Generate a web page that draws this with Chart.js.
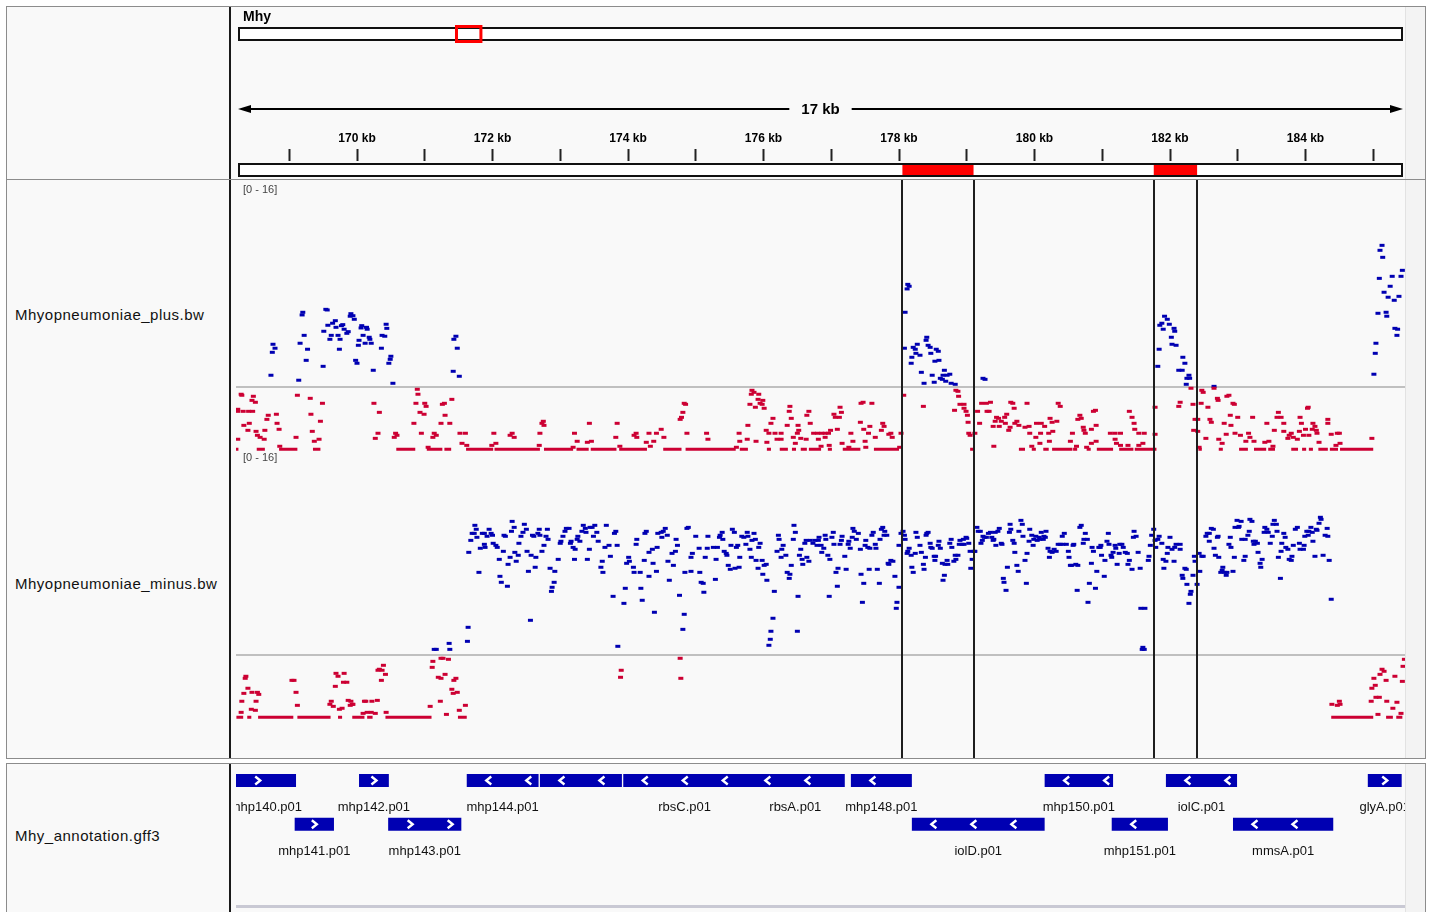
<!DOCTYPE html>
<html>
<head>
<meta charset="utf-8">
<script src="https://cdn.jsdelivr.net/npm/chart.js@4/dist/chart.umd.min.js"></script>
<style>
  body { margin: 0; width: 1434px; height: 912px; overflow: hidden; position: relative; background: #fff; font-family: "Liberation Sans", Arial, sans-serif; }
  .panel { position: absolute; left: 6px; width: 1420px; box-sizing: border-box; border: 1px solid #8c8c8c; background: #f9f9f9; }
  .divider { position: absolute; left: 229px; width: 2px; background: #1a1a1a; }
  .gutter { position: absolute; left: 1405px; width: 20px; background: #f3f3f3; border-left: 1px solid #e2e2e2; box-sizing: border-box; }
  .name { position: absolute; left: 15px; font-size: 15px; letter-spacing: 0.5px; color: #111; line-height: 18px; white-space: nowrap; }
  canvas { position: absolute; }
</style>
</head>
<body>
<div class="panel" style="top:6px;height:174px"></div>
<div class="panel" style="top:179px;height:580px"></div>
<div class="panel" style="top:763px;height:160px"></div>
<div class="gutter" style="top:7px;height:172px"></div>
<div class="gutter" style="top:180px;height:578px"></div>
<div class="gutter" style="top:764px;height:148px"></div>
<div class="divider" style="top:7px;height:172px"></div>
<div class="divider" style="top:180px;height:578px"></div>
<div class="divider" style="top:764px;height:148px"></div>

<div class="name" style="top:306px">Mhyopneumoniae_plus.bw</div>
<div class="name" style="top:575px">Mhyopneumoniae_minus.bw</div>
<div class="name" style="top:827px">Mhy_annotation.gff3</div>

<canvas id="ruler" width="1175" height="173" style="left:230px;top:6px;width:1175px;height:173px"></canvas>
<canvas id="plus" width="1175" height="272" style="left:230px;top:180px;width:1175px;height:272px"></canvas>
<canvas id="minus" width="1175" height="307" style="left:230px;top:451px;width:1175px;height:307px"></canvas>
<canvas id="genes" width="1175" height="148" style="left:230px;top:764px;width:1175px;height:148px"></canvas>

<script>
// ---- data (kb positions, track values) ----
const chromName = "Mhy";
const chromLengthKb = 893;
const trackRange = [0, 16];
const regions = [[178.05, 179.10], [181.76, 182.40]];

const plusBlue = [
  [169.20,5.86],[169.19,5.65],[169.54,6.09],[169.56,6.04],[169.91,5.75],[169.94,5.59],[169.90,5.55],[169.96,5.31],
  [169.68,5.20],[169.64,5.00],[169.57,4.84],[169.69,4.68],[169.79,4.89],[169.77,4.81],[169.81,4.53],[169.87,4.34],
  [169.85,4.21],[170.07,4.81],[170.06,4.63],[170.14,4.68],[170.15,4.53],[170.43,4.92],[170.44,4.60],[169.51,4.37],
  [169.22,4.05],[169.62,4.05],[169.72,4.05],[169.60,3.74],[169.75,3.74],[170.09,4.05],[170.18,3.90],[170.19,3.74],
  [170.03,3.66],[170.02,3.27],[170.12,3.43],[170.21,3.43],[170.37,4.05],[170.41,3.98],[170.36,3.04],[168.76,3.35],
  [168.79,3.04],[168.75,2.72],[169.16,3.43],[169.27,2.96],[169.25,2.09],[169.50,1.62],[169.74,2.96],[169.98,2.09],
  [170.00,1.86],[170.24,1.31],[170.50,2.41],[170.49,2.17],[170.47,1.86],[168.73,0.92],[169.14,0.53],[170.53,0.29],
  [171.46,3.98],[171.43,3.74],[171.48,3.04],[171.42,1.23],[171.51,0.84],
  [178.13,8.05],[178.15,7.90],[178.12,7.69],[178.09,5.86],[178.08,3.04],[178.41,3.90],[178.40,3.66],[178.27,3.35],
  [178.21,3.11],[178.24,2.96],[178.25,2.64],[178.31,2.49],[178.19,2.33],[178.18,1.86],[178.43,3.27],[178.46,3.11],
  [178.47,2.64],[178.55,2.96],[178.58,2.80],[178.53,2.02],[178.59,2.09],[178.33,1.15],[178.49,0.92],[178.37,0.29],
  [178.52,0.37],[178.67,1.31],[178.65,0.92],[178.71,0.92],[178.75,1.00],[178.61,0.68],[178.64,0.60],[178.69,0.45],
  [178.77,0.29],[178.83,0.21],[179.24,0.68],[179.27,0.60],
  [181.92,5.55],[181.96,5.31],[181.88,5.00],[181.85,4.84],[181.99,4.92],[182.06,4.60],[182.07,4.37],[181.90,4.53],
  [182.02,3.90],[182.03,3.35],[182.09,3.27],[181.84,2.96],[181.82,1.62],[182.19,2.33],[182.22,1.86],[182.13,1.31],
  [182.18,1.31],[182.28,0.92],[182.25,0.68],[182.29,0.68],[182.24,0.21],[182.65,0.05],
  [185.13,11.11],[185.10,10.72],[185.14,10.17],[185.43,9.15],[185.09,8.52],[185.28,8.68],[185.41,8.68],[185.25,7.90],
  [185.16,7.43],[185.22,7.04],[185.38,7.11],[185.31,6.80],[185.07,5.78],[185.19,5.86],[185.20,5.55],[185.32,4.60],
  [185.36,4.53],[185.35,4.05],[185.04,3.43],[185.03,2.64],[185.01,1.00]
];

const plusRed = [
  [168.29,-0.57],[168.30,-0.65],[168.47,-0.73],[168.45,-1.05],[168.50,-1.20],[168.24,-1.75],[168.24,-1.91],[168.32,-1.91],
  [168.40,-1.91],[168.46,-1.91],[168.41,-2.85],[168.33,-3.01],[168.39,-3.40],[168.51,-3.48],[168.53,-3.79],[168.57,-3.95],
  [168.63,-4.10],[168.24,-4.10],[168.69,-2.22],[168.67,-2.54],[168.81,-2.14],[168.82,-2.85],[168.85,-3.32],[168.64,-3.40],
  [168.86,-4.65],[169.12,-0.65],[169.31,-0.89],[169.49,-1.28],[169.32,-2.14],[169.46,-2.69],[169.34,-3.48],[169.37,-4.26],
  [169.44,-4.10],[169.10,-3.95],[170.25,-1.28],[170.33,-1.99],[170.31,-3.63],[170.27,-4.03],[170.57,-3.63],[170.59,-3.79],
  [170.55,-3.95],[170.89,-0.18],[170.90,-0.57],[170.87,-1.28],[171.00,-1.28],[171.02,-1.52],[170.93,-1.99],[170.99,-2.14],
  [170.84,-2.85],[170.95,-3.63],[171.14,-3.63],[171.17,-3.79],[171.12,-3.95],[171.05,-4.73],[171.26,-1.36],[171.29,-1.28],
  [171.40,-0.97],[171.30,-2.22],[171.24,-2.85],[171.37,-2.85],[171.52,-3.63],[171.60,-3.63],[171.55,-4.42],[171.62,-4.58],
  [172.02,-3.63],[172.05,-4.42],[171.99,-4.58],[172.29,-3.63],[172.26,-3.79],[172.32,-3.95],[172.75,-2.69],[172.73,-2.85],
  [172.76,-3.01],[172.70,-3.63],[172.69,-4.58],[173.21,-3.63],[173.25,-4.26],[173.19,-4.73],[173.43,-2.85],[173.46,-4.26],
  [173.40,-4.34],[173.84,-2.85],[173.82,-3.95],[173.88,-4.65],[174.12,-3.63],[174.09,-3.79],[174.13,-3.95],[174.31,-3.63],
  [174.42,-3.63],[174.49,-3.32],[174.53,-3.95],[174.38,-4.26],[174.27,-4.34],[174.33,-4.65],[174.83,-1.28],[174.85,-1.36],
  [174.81,-1.99],[174.79,-2.38],[174.77,-2.54],[174.87,-3.63],[175.16,-3.63],[175.18,-4.10],
  [175.83,-0.26],[175.86,-0.42],[175.82,-0.57],[175.93,-0.57],[175.92,-0.97],[175.99,-1.05],[175.80,-1.36],[175.95,-1.28],
  [175.98,-1.36],[175.88,-1.59],[176.01,-1.67],[176.14,-2.46],[175.77,-3.01],[176.04,-3.40],[176.11,-2.85],[176.08,-3.63],
  [176.17,-3.63],[176.26,-3.63],[176.20,-4.10],[176.26,-4.10],[176.05,-4.34],[175.89,-4.26],[175.76,-4.10],[175.65,-4.26],
  [175.64,-3.63],[175.60,-4.73],[176.39,-1.52],[176.38,-1.91],[176.41,-2.46],[176.35,-3.01],[176.52,-3.40],[176.50,-3.63],
  [176.44,-3.95],[176.55,-4.03],[176.47,-4.42],[176.63,-4.10],[176.67,-1.91],[176.64,-2.22],[176.69,-2.85],[176.51,-3.01],
  [176.81,-4.10],[176.91,-3.95],[176.74,-3.63],[176.80,-3.63],[176.86,-3.63],[176.91,-3.63],[176.96,-3.63],[176.99,-3.40],
  [177.09,-3.32],[177.04,-2.14],[177.06,-2.38],[177.12,-2.38],[177.15,-1.99],[177.13,-1.59],[176.97,-4.58],[176.85,-4.65],
  [177.16,-4.42],[177.26,-4.73],[177.29,-3.63],[177.32,-4.26],[177.44,-1.28],[177.47,-1.20],[177.60,-1.28],[177.43,-2.77],
  [177.48,-3.32],[177.57,-3.09],[177.55,-3.63],[177.65,-3.95],[177.50,-4.26],[177.51,-4.73],[177.76,-2.85],[177.78,-3.09],
  [177.74,-3.40],[177.85,-3.71],[177.90,-3.95],[177.88,-3.63],[178.03,-3.63],[178.01,-4.73],[178.07,-0.65],[178.36,-1.52],
  [178.82,-1.83],[178.88,-0.73],[178.87,-0.34],[178.84,-0.26],[178.90,-1.36],[178.96,-1.36],[178.96,-1.67],[178.99,-1.91],
  [179.01,-2.22],[179.02,-2.77],[179.03,-3.63],[179.05,-3.79],[179.12,-3.63],[179.16,-1.91],[179.19,-2.85],[179.22,-1.28],
  [179.29,-1.28],[179.35,-1.20],[179.30,-1.91],[179.33,-1.91],[179.40,-4.65],[179.44,-2.38],[179.47,-2.46],[179.56,-2.38],
  [179.59,-2.14],[179.42,-2.69],[179.51,-2.69],[179.57,-2.85],[179.39,-3.09],[179.48,-3.09],[179.64,-3.16],[179.62,-3.40],
  [179.71,-2.85],[179.74,-2.69],[179.77,-3.01],[179.65,-1.20],[179.68,-1.28],[179.70,-1.67],[179.89,-1.28],[179.86,-3.16],
  [179.92,-3.09],[179.93,-3.63],[180.02,-3.95],[180.03,-2.85],[180.10,-2.85],[180.15,-3.09],[180.09,-3.63],[180.21,-3.63],
  [180.08,-4.42],[179.96,-4.65],[180.23,-2.46],[180.26,-2.77],[180.33,-2.69],[180.35,-1.28],[180.38,-1.52],[180.27,-3.48],
  [180.22,-4.26],[180.53,-4.26],[180.56,-3.63],[180.64,-2.54],[180.67,-2.22],[180.69,-2.46],[180.72,-3.16],[180.73,-3.40],
  [180.75,-3.63],[180.84,-3.32],[180.91,-3.01],[180.90,-1.83],[180.87,-1.91],[180.84,-4.42],[180.91,-4.26],[180.62,-4.65],
  [180.77,-4.73],[181.19,-4.10],[181.21,-4.42],[181.27,-4.58],[181.38,-4.58],[181.12,-3.63],[181.19,-3.63],[181.27,-3.63],
  [181.40,-1.91],[181.44,-2.38],[181.47,-2.85],[181.48,-3.32],[181.54,-3.63],[181.62,-3.63],[181.60,-4.42],[181.54,-4.58],
  [181.78,-1.59],[181.78,-3.71],
  [182.15,-1.20],[182.13,-1.52],[182.34,-1.36],[182.31,-0.10],[182.47,-0.26],[182.49,-0.42],[182.46,-1.28],[182.56,-1.59],
  [182.65,-0.10],[182.70,-0.89],[182.71,-1.05],[182.84,-0.73],[182.87,-0.65],[182.93,-1.28],[182.95,-1.36],[182.37,-2.54],
  [182.41,-2.54],[182.59,-2.54],[182.61,-2.77],[182.35,-3.40],[182.41,-3.48],[182.53,-4.03],[182.72,-4.10],[182.77,-4.42],
  [182.43,-4.73],[182.89,-2.22],[182.80,-2.85],[182.90,-3.01],[183.00,-2.38],[182.83,-3.71],[182.96,-3.63],[183.04,-3.79],
  [183.16,-3.63],[183.18,-3.95],[183.12,-4.26],[183.24,-4.26],[183.22,-2.38],[183.43,-2.85],[183.60,-1.99],[183.58,-2.38],
  [183.64,-2.38],[183.68,-2.85],[183.54,-3.40],[183.46,-4.26],[183.40,-4.34],[183.52,-4.65],[183.68,-3.48],[183.79,-3.63],
  [183.76,-3.79],[183.82,-3.95],[183.74,-4.03],[183.88,-4.10],[183.92,-2.38],[183.94,-2.85],[183.91,-3.48],[184.00,-3.32],
  [183.97,-3.79],[184.05,-3.79],[184.03,-1.67],[184.04,-1.59],[184.11,-2.85],[184.14,-3.09],[184.10,-3.32],[184.16,-3.40],
  [184.17,-3.63],[184.20,-4.34],[184.33,-2.54],[184.33,-2.85],[184.38,-3.71],[184.47,-3.63],[184.50,-3.63],[184.51,-4.42],
  [184.45,-4.58],[184.98,-4.03]
];

// runs of consecutive bins sitting at the floor value
const floorValue = -4.89;
const plusRedRuns = [
  [168.21,168.25],[168.52,168.64],[168.85,169.12],[169.35,169.46],[170.58,170.86],[171.03,171.26],[171.29,171.39],
  [171.61,172.01],[172.03,172.70],[172.76,173.19],[173.24,173.42],[173.45,173.83],[173.87,174.28],[174.52,174.79],
  [174.85,175.59],[175.65,175.77],[176.05,176.11],[176.24,176.36],[176.42,176.48],[176.55,176.64],[176.67,176.85],
  [176.95,177.01],[177.17,177.43],[177.63,178.00],[179.05,179.11],[179.77,179.86],[179.96,180.02],[180.13,180.21],
  [180.26,180.56],[180.57,180.63],[180.77,180.83],[180.92,181.16],[181.25,181.46],[181.48,181.80],[182.42,182.47],
  [182.72,182.78],[183.02,183.15],[183.24,183.42],[183.45,183.55],[183.79,183.89],[183.95,184.01],[184.05,184.11],
  [184.19,184.33],[184.36,184.48],[184.51,185.00]
];

const minusBlue = [
  [171.74,10.17],[171.76,9.86],[171.70,9.54],[171.73,9.54],[171.77,9.23],[171.68,8.99],[171.65,8.05],[171.80,6.48],
  [171.64,2.17],[171.63,1.07],[171.36,0.91],[171.37,0.44],[171.14,0.44],[171.17,0.44],[171.95,9.86],[171.85,9.54],
  [171.88,9.54],[171.98,9.54],[172.00,9.39],[171.92,9.31],[171.89,8.44],[171.88,8.68],[171.82,8.37],[172.01,8.76],
  [172.05,8.60],[172.07,8.44],[172.16,8.13],[172.10,7.50],[172.11,6.17],[172.13,5.70],[172.22,5.39],[172.23,7.11],
  [172.26,7.66],[172.29,10.48],[172.32,10.01],[172.28,9.70],[172.17,9.39],[172.19,9.31],[172.47,10.25],[172.50,9.86],
  [172.45,9.62],[172.42,9.31],[172.39,8.76],[172.33,8.05],[172.38,7.82],[172.35,7.35],[172.51,8.13],[172.53,6.56],
  [172.57,7.82],[172.59,9.39],[172.61,9.31],[172.63,6.88],[172.64,7.66],[172.56,2.72],[172.69,9.86],[172.67,9.54],
  [172.70,9.39],[172.81,9.86],[172.79,9.31],[172.82,9.07],[172.76,8.60],[172.73,8.13],[172.85,6.80],[172.91,5.70],
  [172.88,5.31],[172.87,4.99],[172.92,6.56],[172.97,7.50],[173.00,8.76],[173.01,8.92],[173.07,9.70],[173.09,9.93],
  [173.13,9.93],[173.04,9.31],[173.16,8.92],[173.15,8.76],[173.19,8.44],[173.22,8.29],[173.21,7.50],[173.25,9.07],
  [173.26,9.31],[173.29,8.92],[173.34,10.17],[173.37,9.93],[173.32,9.70],[173.38,9.62],[173.44,10.01],[173.47,10.01],
  [173.51,10.17],[173.49,9.31],[173.54,9.62],[173.56,8.92],[173.43,8.29],[173.40,7.50],[173.62,7.35],[173.60,6.88],
  [173.63,6.48],[173.66,8.44],[173.72,8.60],[173.74,7.74],[173.68,10.17],[173.80,9.54],[173.82,9.70],[173.84,8.60],
  [173.78,4.60],[173.94,4.05],[173.96,5.23],[173.85,0.68],[174.01,7.66],[174.02,7.35],[173.98,7.19],[174.08,6.88],
  [174.09,6.48],[174.13,9.07],[174.12,8.68],[174.18,6.48],[174.21,4.29],[174.19,5.23],[174.24,7.42],[174.25,9.54],
  [174.27,9.70],[174.31,8.05],[174.36,8.29],[174.43,8.44],[174.37,7.19],[174.42,6.56],[174.31,6.17],[174.39,3.35],
  [174.44,9.54],[174.49,9.62],[174.52,9.70],[174.55,9.93],[174.50,9.23],[174.58,9.39],[174.59,7.35],[174.61,5.86],
  [174.67,7.03],[174.70,8.13],[174.65,7.97],[174.73,8.60],[174.71,9.07],[174.76,4.68],[174.81,2.01],[174.83,3.19],
  [174.84,6.48],[174.87,9.93],[174.89,10.01],[174.95,7.97],[174.93,7.66],[174.93,6.56],[175.00,9.31],[175.05,8.37],
  [175.06,6.48],[175.08,5.70],[175.11,5.62],[175.12,4.92],[175.14,7.66],[175.17,8.37],[175.18,9.31],
  [175.29,5.93],[175.30,7.50],[175.26,8.44],[175.32,8.44],[175.35,9.23],[175.36,9.39],[175.39,9.62],[175.40,9.07],
  [175.42,8.13],[175.45,7.97],[175.46,7.82],[175.48,7.03],[175.51,6.72],[175.52,8.60],[175.54,9.86],[175.57,9.62],
  [175.58,6.80],[175.60,8.44],[175.62,8.60],[175.64,6.88],[175.65,7.66],[175.68,9.31],[175.71,9.23],[175.74,8.68],
  [175.76,9.62],[175.77,9.31],[175.80,8.29],[175.82,7.66],[175.83,8.99],[175.86,9.54],[175.88,9.07],[175.89,7.42],
  [175.92,6.80],[175.93,8.44],[175.95,8.76],[175.98,7.42],[175.99,6.33],[176.01,7.03],[176.04,7.11],[176.05,5.86],
  [176.08,0.76],[176.10,1.23],[176.11,1.86],[176.14,2.88],[176.16,4.99],[176.20,8.13],[176.22,9.39],[176.23,9.07],
  [176.26,7.66],[176.27,8.29],[176.29,8.60],[176.33,7.82],[176.35,6.48],[176.38,6.01],[176.39,6.33],[176.41,7.03],
  [176.44,9.07],[176.45,10.17],[176.47,9.62],[176.50,1.86],[176.51,4.60],[176.53,7.82],[176.55,8.29],[176.57,7.50],
  [176.58,7.11],[176.61,8.76],[176.64,7.66],[176.67,7.35],[176.63,8.99],[176.69,8.99],[176.73,8.76],[176.76,8.99],
  [176.79,8.60],[176.82,9.23],[176.81,8.99],[176.85,8.60],[176.86,8.05],[176.89,8.37],[176.91,9.39],[176.92,9.07],
  [176.95,7.82],[176.97,4.60],[176.98,7.50],[177.01,9.23],[177.03,9.62],[177.04,8.68],[177.07,6.48],[177.09,5.39],
  [177.10,6.80],[177.13,8.68],[177.15,8.99],[177.16,9.31],[177.20,7.74],[177.22,6.72],[177.25,8.68],[177.26,8.92],
  [177.28,8.37],[177.31,9.23],[177.32,9.93],[177.34,9.70],[177.37,9.07],[177.40,9.54],[177.43,8.29],[177.44,6.33],
  [177.46,4.13],[177.48,5.62],[177.50,8.60],[177.51,8.99],[177.54,8.44],[177.56,6.72],[177.57,8.37],[177.60,9.39],
  [177.62,9.62],[177.65,8.68],[177.66,8.37],[177.68,6.72],[177.71,5.62],[177.72,9.07],[177.74,9.86],[177.76,10.01],
  [177.78,9.39],[177.79,9.70],[177.82,9.39],[177.84,7.19],[177.85,7.11],[177.88,7.42],[177.91,7.35],[177.94,6.17],
  [177.96,3.66],[177.97,4.13],[178.00,5.31],[178.00,8.60],[178.03,9.54],[178.06,9.70],[178.08,9.39],[178.09,9.07],
  [178.12,7.97],[178.13,8.13],[178.15,8.37],[178.18,7.82],[178.19,6.88],[178.21,6.48],[178.24,7.97],[178.25,9.62],
  [178.27,9.23],[178.31,8.60],[178.33,8.05],[178.36,7.11],[178.37,6.72],[178.39,7.66],[178.40,9.39],[178.41,9.54],
  [178.43,9.62],[178.46,8.76],[178.47,8.44],[178.49,8.37],[178.52,7.74],[178.53,7.42],[178.54,7.74],[178.58,8.60],
  [178.59,8.92],[178.61,8.37],[178.64,7.19],[178.65,5.86],[178.67,6.25],[178.68,7.11],[178.71,7.42],[178.72,7.11],
  [178.75,8.76],[178.77,9.07],[178.78,8.44],[178.81,7.35],[178.83,7.82],[178.84,7.50],[178.87,7.82],[178.89,8.68],
  [178.90,8.99],[178.93,8.68],[178.95,9.07],[178.96,8.68],[178.99,9.23],[179.00,9.15],[179.03,8.76],[179.05,8.13],
  [179.06,6.80],[179.08,7.50],[179.11,8.13],[179.12,8.13],[179.15,10.01],[179.17,9.70],[179.20,9.70],[179.21,8.76],
  [179.23,8.99],[179.24,9.31],[179.26,9.23],[179.29,9.23],[179.32,9.54],[179.35,9.62],[179.37,9.23],[179.39,8.99],
  [179.40,9.07],[179.42,9.62],[179.43,8.60],[179.46,9.70],[179.48,9.93],[179.51,8.76],[179.52,8.68],[179.54,6.01],
  [179.55,5.70],[179.58,5.07],[179.60,6.88],[179.63,9.62],[179.64,10.25],[179.65,9.86],[179.68,8.99],[179.70,8.76],
  [179.71,8.05],[179.74,7.03],[179.76,6.56],[179.77,9.70],[179.80,10.56],[179.82,10.25],[179.83,9.31],[179.86,7.42],
  [179.88,5.62],[179.89,7.97],[179.92,8.92],[179.93,9.86],[179.96,9.39],[179.98,8.60],[179.99,9.07],[180.02,9.31],
  [180.04,8.99],[180.07,9.23],[180.10,9.62],[180.08,9.07],[180.13,9.07],[180.14,9.31],[180.16,9.23],[180.17,9.70],
  [180.20,8.37],[180.22,7.66],[180.23,8.13],[180.26,8.05],[180.29,8.29],[180.32,8.13],[180.35,8.68],[180.41,9.31],
  [180.44,9.54],[180.38,8.68],[180.42,8.68],[180.47,8.68],[180.50,8.13],[180.51,7.66],[180.53,7.03],[180.55,7.03],
  [180.57,8.60],[180.58,8.68],[180.63,5.07],[180.61,7.11],[180.64,7.03],[180.67,10.01],[180.69,10.17],[180.72,8.76],
  [180.73,9.07],[180.75,9.54],[180.78,9.07],[180.79,4.13],[180.81,5.62],[180.84,7.19],[180.85,8.44],[180.87,8.13],
  [180.90,5.23],[180.92,6.56],[180.95,8.44],[180.97,8.44],[180.98,8.60],[180.99,7.82],[181.03,6.17],[181.04,7.42],
  [181.07,8.92],[181.09,9.54],[181.10,8.68],[181.13,7.82],[181.14,7.66],[181.16,8.05],[181.19,8.60],[181.20,8.37],
  [181.22,7.11],[181.25,7.97],[181.26,8.68],[181.29,8.68],[181.31,8.44],[181.34,8.05],[181.37,7.97],[181.38,7.11],
  [181.40,7.42],[181.44,6.72],[181.46,9.23],[181.47,9.70],[181.50,9.31],[181.53,8.05],[181.56,6.80],[181.57,3.66],
  [181.63,3.66],[181.59,0.44],[181.62,0.44],[181.60,0.60],[181.68,7.42],[181.69,7.74],[181.71,8.60],
  [181.76,9.86],[181.73,9.39],[181.84,9.31],[181.82,9.07],[181.78,8.99],[181.79,8.44],[181.88,8.76],[182.00,9.23],
  [181.97,8.44],[182.03,8.29],[182.09,8.68],[182.15,8.68],[182.07,8.44],[182.15,8.29],[181.96,7.97],[181.90,7.50],
  [181.94,7.35],[182.06,7.35],[181.91,6.80],[182.22,6.80],[182.24,6.72],[182.18,6.25],[182.19,6.01],[182.25,5.54],
  [182.31,4.99],[182.30,4.76],[182.28,4.05],[182.34,6.25],[182.36,7.74],[182.37,7.35],[182.43,7.97],[182.40,5.54],
  [182.44,6.56],[182.47,7.74],[182.49,7.74],[182.61,9.93],[182.64,9.86],[182.58,9.54],[182.55,9.54],[182.53,9.31],
  [182.71,9.31],[182.70,9.23],[182.58,8.92],[182.65,8.37],[182.67,7.82],[182.72,7.66],[182.78,6.88],[182.77,6.64],
  [182.75,6.48],[182.81,6.48],[182.84,6.48],[182.83,6.25],[182.93,6.56],[182.89,9.23],[182.87,8.68],[182.90,8.44],
  [182.95,7.66],[182.96,10.01],[182.99,10.56],[183.05,10.48],[183.02,10.09],[183.01,10.01],[183.17,9.70],[183.15,9.39],
  [183.11,9.07],[183.06,9.07],[183.09,7.42],[183.11,7.74],[183.18,10.64],[183.21,10.48],[183.23,8.92],[183.26,8.92],
  [183.24,8.68],[183.29,8.76],[183.30,8.05],[183.36,7.50],[183.33,7.19],[183.34,6.88],[183.40,10.01],[183.43,9.86],
  [183.39,9.62],[183.45,9.62],[183.51,9.31],[183.54,10.56],[183.52,10.25],[183.57,10.25],[183.58,9.70],[183.48,8.76],
  [183.60,7.66],[183.63,6.01],[183.65,8.76],[183.68,9.54],[183.70,9.23],[183.71,8.44],[183.74,8.29],[183.64,8.13],
  [183.76,7.50],[183.79,7.42],[183.80,7.74],[183.82,8.60],[183.85,9.86],[183.88,10.01],[183.91,8.76],[183.92,8.29],
  [183.97,8.29],[183.98,8.60],[183.99,9.31],[184.04,9.39],[184.02,9.70],[184.05,9.70],[184.08,10.01],[184.10,9.62],
  [184.11,8.92],[184.14,7.74],[184.16,9.86],[184.17,9.78],[184.20,10.33],[184.22,10.80],[184.23,10.64],[184.26,7.82],
  [184.29,9.39],[184.32,9.93],[184.33,9.31],[184.35,7.42],[184.38,4.37]
];

const minusRed = [
  [168.36,-1.67],[168.35,-1.83],[168.39,-2.61],[168.33,-3.01],[168.45,-2.93],[168.53,-2.93],[168.55,-3.09],[168.30,-3.63],
  [168.51,-3.63],[168.44,-4.26],[168.50,-4.34],[168.29,-4.50],[169.04,-1.99],[169.07,-1.99],[169.10,-2.93],[169.12,-3.95],
  [169.69,-1.44],[169.72,-1.67],[169.81,-1.44],[169.68,-2.46],[169.80,-2.14],[169.85,-2.14],[169.62,-3.63],[169.60,-3.87],
  [169.65,-4.03],[169.74,-4.26],[169.78,-4.18],[169.87,-3.56],[169.91,-3.63],[169.93,-3.87],[169.90,-3.95],[169.94,-3.87],
  [170.11,-3.63],[170.13,-3.63],[170.22,-3.63],[170.30,-3.56],[170.09,-4.58],[170.15,-4.50],[170.21,-4.50],[170.27,-4.58],
  [170.43,-4.50],[170.39,-0.81],[170.33,-1.12],[170.31,-1.20],[170.37,-1.20],[170.42,-1.52],[170.36,-1.99],[171.12,-0.50],
  [171.11,-0.97],[171.24,-0.26],[171.27,-0.26],[171.35,-0.34],[171.30,-1.52],[171.20,-1.75],[171.24,-1.83],[171.46,-1.83],
  [171.43,-1.99],[171.40,-2.69],[171.42,-3.01],[171.48,-2.93],[171.23,-3.63],[171.08,-4.03],[171.60,-3.95],[171.51,-4.34],
  [171.32,-4.66],[173.90,-1.20],[173.89,-1.75],[174.77,-0.26],[174.78,-1.83],
  [184.39,-3.87],[184.47,-3.95],[184.50,-3.63],[184.51,-3.87],[184.98,-2.61],[184.97,-3.63],[185.03,-2.38],[185.04,-3.32],
  [185.09,-3.32],[185.10,-1.52],[185.13,-1.12],[185.16,-1.28],[185.19,-1.99],[185.01,-1.83],[185.07,-4.66],[185.20,-3.63],
  [185.29,-4.18],[185.32,-1.67],[185.35,-3.71],[185.43,-2.07],[185.41,-4.58],[185.44,-0.89],[185.46,-0.34]
];

const minusRedRuns = [
  [168.22,168.32],[168.38,168.44],[168.54,169.06],[169.12,169.61],[169.72,169.78],[169.93,170.11],[170.15,170.23],
  [170.42,171.10],[171.49,171.62],[184.38,185.00],[185.19,185.29],[185.34,185.43]
];

const geneNames   = ["mhp140.p01","mhp142.p01","mhp144.p01","","rbsC.p01","rbsA.p01","mhp148.p01","mhp150.p01","iolC.p01","glyA.p01",
                     "mhp141.p01","mhp143.p01","iolD.p01","mhp151.p01","mmsA.p01"];
const geneStarts  = [168.21,170.03,171.62,172.70,173.93,175.74,177.29,180.15,181.94,184.92,
                     169.08,170.46,178.19,181.14,182.93];
const geneEnds    = [169.10,170.47,172.68,173.91,175.74,177.20,178.19,181.16,182.99,185.42,
                     169.66,171.54,180.15,181.97,184.41];
const geneStrands = ["+","+","-","-","-","-","-","-","-","+",
                     "+","+","-","-","-"];
const geneRows    = [0,0,0,0,0,0,0,0,0,0,1,1,1,1,1];

// ---- drawing ----
Chart.defaults.font.family = '"Liberation Sans", Arial, sans-serif';
const BLUE = "rgb(0,0,178)";
const RED = "rgb(204,0,51)";
const REGION_LINE = "#1e1e1e";
const trackView = { min: 168.214, max: 185.469 };
const rulerView = { min: 168.243, max: 185.439 };

const toPts = (arr) => arr.map(([x, y]) => ({ x, y }));
const runPts = (runs, v) => runs.flatMap(([a, b]) => [{ x: a, y: v }, { x: b, y: v }, { x: b, y: null }]);

// ruler
const rulerDecor = {
  id: "rulerDecor",
  beforeDatasetsDraw(chart) {
    const { ctx, chartArea: a } = chart;
    ctx.save();
    ctx.fillStyle = "#fff";
    ctx.fillRect(a.left, a.top + 2, a.right - a.left, a.bottom - a.top - 2);
    ctx.strokeStyle = "#111";
    ctx.lineWidth = 2;
    ctx.strokeRect(a.left + 1, a.top + 3, a.right - a.left - 2, a.bottom - a.top - 4);
    ctx.restore();
  },
  afterDraw(chart) {
    const { ctx, chartArea: a, scales: { x } } = chart;
    const w = a.right - a.left;
    ctx.save();
    // chromosome name
    ctx.fillStyle = "#000";
    ctx.font = 'bold 14px "Liberation Sans", Arial, sans-serif';
    ctx.textBaseline = "middle";
    ctx.fillText(chromName, a.left + 5, 11);
    // ideogram
    ctx.fillStyle = "#fff";
    ctx.fillRect(a.left, 21, w, 14);
    ctx.strokeStyle = "#111";
    ctx.lineWidth = 2;
    ctx.strokeRect(a.left + 1, 22, w - 2, 12);
    const x0 = a.left + (x.min / chromLengthKb) * w;
    const x1 = a.left + (x.max / chromLengthKb) * w;
    ctx.strokeStyle = "#f00";
    ctx.lineWidth = 3;
    ctx.strokeRect(x0 - 1, 20.5, x1 - x0 + 2, 15);
    // span arrow
    const y = 103;
    const label = Math.round(x.max - x.min) + " kb";
    ctx.font = 'bold 15px "Liberation Sans", Arial, sans-serif';
    const tw = ctx.measureText(label).width;
    const cx = (a.left + a.right) / 2;
    ctx.fillStyle = "#000";
    ctx.textAlign = "center";
    ctx.fillText(label, cx, y + 1);
    ctx.strokeStyle = "#000";
    ctx.lineWidth = 2;
    ctx.beginPath();
    ctx.moveTo(a.left + 4, y); ctx.lineTo(cx - tw / 2 - 12, y);
    ctx.moveTo(cx + tw / 2 + 12, y); ctx.lineTo(a.right - 4, y);
    ctx.stroke();
    ctx.beginPath();
    ctx.moveTo(a.left, y); ctx.lineTo(a.left + 13, y - 4); ctx.lineTo(a.left + 13, y + 4); ctx.closePath();
    ctx.moveTo(a.right, y); ctx.lineTo(a.right - 13, y - 4); ctx.lineTo(a.right - 13, y + 4); ctx.closePath();
    ctx.fill();
    ctx.restore();
  }
};

new Chart(document.getElementById("ruler"), {
  type: "scatter",
  data: {
    datasets: [{
      data: runPts(regions, 0.44),
      showLine: true,
      borderColor: "#f00",
      borderWidth: 10,
      pointRadius: 0,
      spanGaps: false
    }]
  },
  options: {
    responsive: false,
    animation: false,
    events: [],
    layout: { autoPadding: false, padding: { left: 8, right: 2, top: 125, bottom: 2 } },
    plugins: { legend: { display: false }, tooltip: { enabled: false } },
    scales: {
      x: {
        type: "linear",
        position: "top",
        min: rulerView.min,
        max: rulerView.max,
        afterFit: (s) => { s.height = 30; },
        border: { display: false },
        grid: { drawOnChartArea: false, drawTicks: true, tickLength: 12, tickWidth: 2, tickColor: "#222" },
        ticks: {
          stepSize: 1,
          includeBounds: false,
          autoSkip: false,
          maxRotation: 0,
          maxTicksLimit: 100,
          padding: 3,
          color: "#000",
          font: { size: 12, weight: "bold" },
          callback: (v) => (v % 2 === 0 ? v + " kb" : "")
        }
      },
      y: { min: 0, max: 1, display: false }
    }
  },
  plugins: [rulerDecor]
});

// data tracks
const trackDecor = {
  id: "trackDecor",
  beforeDatasetsDraw(chart) {
    const { ctx, chartArea: a, scales: { y } } = chart;
    const y0 = Math.round(y.getPixelForValue(0));
    ctx.save();
    ctx.fillStyle = "#c0c0c0";
    ctx.fillRect(a.left, y0 - 1, a.right - a.left, 2);
    ctx.fillStyle = "#444";
    ctx.font = '11px "Liberation Sans", Arial, sans-serif';
    ctx.textBaseline = "middle";
    ctx.fillText("[" + trackRange[0] + " - " + trackRange[1] + "]", a.left + 7, a.top + 7);
    ctx.restore();
  },
  afterDatasetsDraw(chart) {
    const { ctx, scales: { x } } = chart;
    ctx.save();
    ctx.fillStyle = REGION_LINE;
    regions.forEach(([s, e]) => {
      [s, e].forEach((v) => {
        const px = Math.round(x.getPixelForValue(v));
        ctx.fillRect(px - 1, 0, 2, chart.height);
      });
    });
    ctx.restore();
  }
};

function trackChart(id, blue, red, runs, padding) {
  return new Chart(document.getElementById(id), {
    type: "scatter",
    data: {
      datasets: [
        { data: runPts(runs, floorValue), showLine: true, borderColor: RED, borderWidth: 3, pointRadius: 0, spanGaps: false },
        { data: toPts(red), pointStyle: "line", pointRadius: 2.5, pointBorderWidth: 3, pointBorderColor: RED, pointBackgroundColor: RED },
        { data: toPts(blue), pointStyle: "line", pointRadius: 2.5, pointBorderWidth: 3, pointBorderColor: BLUE, pointBackgroundColor: BLUE }
      ]
    },
    options: {
      responsive: false,
      animation: false,
      events: [],
      layout: { autoPadding: false, padding },
      plugins: { legend: { display: false }, tooltip: { enabled: false } },
      scales: {
        x: { type: "linear", min: trackView.min, max: trackView.max, display: false },
        y: { min: -5.1, max: trackRange[1], display: false }
      }
    },
    plugins: [trackDecor]
  });
}

trackChart("plus", plusBlue, plusRed, plusRedRuns, { left: 6, right: 0, top: 3, bottom: 0 });
trackChart("minus", minusBlue, minusRed, minusRedRuns, { left: 6, right: 0, top: 0, bottom: 38 });

// annotation track
const geneDecor = {
  id: "geneDecor",
  afterDatasetsDraw(chart) {
    const { ctx, chartArea: a, scales: { x, y } } = chart;
    ctx.save();
    ctx.beginPath();
    ctx.rect(a.left, a.top, a.right - a.left, a.bottom - a.top);
    ctx.clip();
    geneNames.forEach((name, i) => {
      const x0 = x.getPixelForValue(geneStarts[i]);
      const x1 = x.getPixelForValue(geneEnds[i]);
      const yc = y.getPixelForValue(geneRows[i]);
      const pos = [];
      if (x1 - x0 < 45) pos.push((x0 + x1) / 2);
      else for (let p = x0 + 22; p + 3 <= x1; p += 40) pos.push(p);
      const d = geneStrands[i] === "+" ? 1 : -1;
      ctx.strokeStyle = "#fff";
      ctx.lineWidth = 2.4;
      pos.forEach((p) => {
        ctx.beginPath();
        ctx.moveTo(p - 2.5 * d, yc - 4);
        ctx.lineTo(p + 2.5 * d, yc);
        ctx.lineTo(p - 2.5 * d, yc + 4);
        ctx.stroke();
      });
      if (name) {
        ctx.fillStyle = "#111";
        ctx.font = '13px "Liberation Sans", Arial, sans-serif';
        ctx.textAlign = "center";
        ctx.textBaseline = "middle";
        ctx.fillText(name, (x0 + x1) / 2, yc + 27);
      }
    });
    ctx.restore();
    ctx.save();
    ctx.fillStyle = "#c9c9d4";
    ctx.fillRect(a.left, 141, a.right - a.left, 3);
    ctx.restore();
  }
};

const geneSegments = geneNames.flatMap((n, i) => [
  { x: geneStarts[i], y: geneRows[i] },
  { x: geneEnds[i], y: geneRows[i] },
  { x: geneEnds[i], y: null }
]);

new Chart(document.getElementById("genes"), {
  type: "scatter",
  data: {
    datasets: [{
      data: geneSegments,
      showLine: true,
      borderColor: BLUE,
      borderWidth: 13,
      pointRadius: 0,
      spanGaps: false
    }]
  },
  options: {
    responsive: false,
    animation: false,
    events: [],
    layout: { autoPadding: false, padding: { left: 6, right: 0, top: 0, bottom: 0 } },
    plugins: { legend: { display: false }, tooltip: { enabled: false } },
    scales: {
      x: { type: "linear", min: trackView.min, max: trackView.max, display: false },
      y: { min: -0.375, max: 3, reverse: true, display: false }
    }
  },
  plugins: [geneDecor]
});
</script>
</body>
</html>
